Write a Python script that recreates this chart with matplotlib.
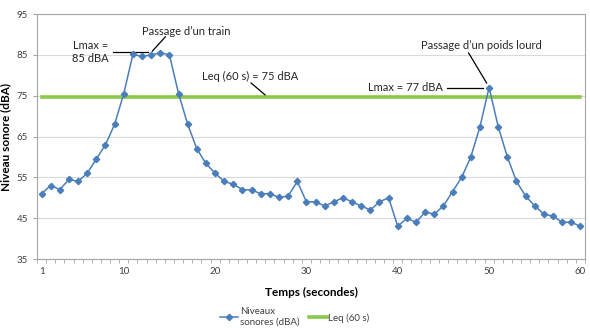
import matplotlib
matplotlib.use('Agg')
from matplotlib import pyplot as plt
import numpy as np

plt.rcParams['font.family'] = ['Lato', 'DejaVu Sans']

temps = np.arange(1, 61)
niveaux = [51, 53, 52, 54.5, 54, 56, 59.5, 63, 68, 75.5,
           85.1, 84.6, 85, 85.5, 85, 75.5, 68, 62, 58.4, 56,
           54, 53.3, 52, 51.9, 51, 51, 50.1, 50.4, 54, 49,
           49, 48, 49, 50, 49, 48, 47, 49, 50, 43,
           45, 44, 46.5, 46, 48, 51.5, 55, 60, 67.4, 77,
           67.4, 60, 54, 50.4, 48, 46, 45.5, 44, 44, 43]
leq = 74.7
x_labels = [1, 10, 20, 30, 40, 50, 60]
y_ticks = [35, 45, 55, 65, 75, 85, 95]

blue = '#4A7EBB'
green = '#8CC84B'
grey = '#A6A6A6'

fig = plt.figure(figsize=(5.9, 3.31), dpi=100)
ax = fig.add_axes([0.0627, 0.2175, 0.9288, 0.7402])

ax.plot(temps, niveaux, color=blue, lw=1.1, marker='D', ms=3.2,
        label='Niveaux\nsonores (dBA)', zorder=3)
ax.plot([temps[0], temps[-1]], [leq, leq], color=green, lw=2.6,
        label='Leq (60 s)', zorder=2)

ax.set_xlim(0.55, 60.45)
ax.set_ylim(35, 95)
ax.set_yticks(y_ticks)
ax.set_xticks(x_labels)
ax.set_xticks(np.arange(0.5, 61, 1), minor=True)
ax.tick_params(axis='x', which='major', length=0, labelsize=7, pad=6, colors='#404040')
ax.tick_params(axis='x', which='minor', length=3, color=grey)
ax.tick_params(axis='y', length=3, color=grey, labelsize=7, colors='#404040')
ax.grid(axis='y', color='#D9D9D9', lw=0.8)
ax.set_axisbelow(True)
for s in ax.spines.values():
    s.set_color(grey)

ax.set_xlabel('Temps (secondes)', fontsize=8.5, fontweight='bold')
ax.xaxis.set_label_coords(0.5, -0.115)
ax.set_ylabel('Niveau sonore (dBA)', fontsize=8.5, fontweight='bold')
ax.yaxis.set_label_coords(-0.048, 0.5)

ann = dict(fontsize=8, color='#262626')
line = dict(color='black', lw=0.9)
ax.text(16.84, 90.8, 'Passage d\u2019un train', ha='center', va='center', **ann)
ax.plot([14.55, 13.13], [89.4, 85.9], **line)
ax.text(6.35, 85.7, 'Lmax =\n85 dBA', ha='center', va='center', linespacing=1.3, **ann)
ax.plot([8.87, 12.69], [85.7, 85.7], **line)
ax.text(23.8, 79.8, 'Leq (60 s) = 75 dBA', ha='center', va='center', **ann)
ax.plot([23.94, 25.47], [78.1, 75.2], **line)
ax.text(49.18, 87.4, 'Passage d\u2019un poids lourd', ha='center', va='center', **ann)
ax.plot([47.76, 49.73], [85.45, 78.1], **line)
ax.text(44.92, 76.9, 'Lmax = 77 dBA', ha='right', va='center', **ann)
ax.plot([45.36, 49.29], [76.9, 76.9], **line)

fig.legend(loc='center', bbox_to_anchor=(0.5, 0.042), ncol=2, frameon=False,
           fontsize=7, handlelength=1.8, columnspacing=1.0, handletextpad=0.2,
           labelcolor='#404040')

fig.savefig('out.png', dpi=100)
